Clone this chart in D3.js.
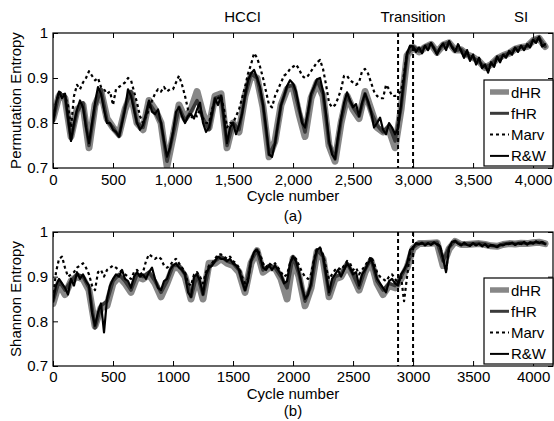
<!DOCTYPE html>
<html><head><meta charset="utf-8">
<script src="https://cdn.jsdelivr.net/npm/d3@7"></script>
<style>body{margin:0;background:#fff}svg text{font-family:"Liberation Sans",Arial,sans-serif;}</style>
</head><body>
<svg id="c" width="554" height="421"></svg>
<script>
// ---------- data ----------
const xTicks = [0,500,1000,1500,2000,2500,3000,3500,4000];
const yTicks = [0.7,0.8,0.9,1];
const seriesNames = ["dHR","fHR","Marv","R&W"];
const regimeLabels = ["HCCI","Transition","SI"];
const regimeCycles = [1580,3000,3900];
const boundaries = [2875,3000];

// Permutation entropy (a)
const peRW = [
0.80,0.845,0.87,0.855,0.865,0.81,0.76,0.80,0.83,0.85,
0.835,0.79,0.755,0.80,0.845,0.88,0.865,0.83,0.80,0.80,
0.785,0.78,0.77,0.80,0.83,0.875,0.86,0.83,0.80,0.785,
0.795,0.82,0.85,0.825,0.82,0.83,0.80,0.76,0.725,0.745,
0.78,0.825,0.835,0.815,0.80,0.815,0.82,0.81,0.83,0.845,
0.80,0.78,0.79,0.82,0.855,0.84,0.86,0.81,0.755,0.79,
0.80,0.775,0.795,0.82,0.86,0.895,0.91,0.918,0.90,0.88,
0.84,0.79,0.73,0.725,0.755,0.80,0.84,0.86,0.882,0.895,
0.888,0.87,0.835,0.80,0.79,0.825,0.865,0.88,0.897,0.90,
0.87,0.82,0.76,0.73,0.72,0.77,0.81,0.845,0.868,0.85,
0.835,0.842,0.815,0.845,0.865,0.848,0.825,0.79,0.80,0.812,
0.785,0.775,0.80,0.79,0.775,0.788,0.84,0.90,0.955,0.972,
0.97,0.958,0.968,0.955,0.972,0.962,0.978,0.965,0.952,0.968,
0.977,0.962,0.982,0.968,0.958,0.975,0.96,0.945,0.962,0.938,
0.952,0.93,0.945,0.922,0.93,0.912,0.935,0.925,0.948,0.935,
0.952,0.945,0.96,0.952,0.968,0.958,0.972,0.962,0.975,0.968,
0.985,0.978,0.992,0.97,0.975];
const peMarv = [
0.80,0.845,0.865,0.87,0.86,0.84,0.79,0.86,0.885,0.875,
0.89,0.90,0.915,0.905,0.895,0.90,0.88,0.875,0.865,0.87,
0.84,0.875,0.88,0.885,0.89,0.90,0.895,0.87,0.845,0.815,
0.80,0.815,0.83,0.85,0.865,0.875,0.87,0.88,0.87,0.875,
0.875,0.89,0.905,0.885,0.86,0.83,0.81,0.82,0.815,0.83,
0.81,0.80,0.80,0.83,0.85,0.855,0.86,0.83,0.79,0.80,
0.80,0.815,0.83,0.855,0.88,0.91,0.93,0.955,0.945,0.925,
0.90,0.87,0.84,0.835,0.86,0.875,0.89,0.905,0.91,0.92,
0.925,0.93,0.92,0.905,0.90,0.905,0.915,0.925,0.935,0.94,
0.92,0.885,0.845,0.835,0.84,0.855,0.875,0.905,0.905,0.895,
0.89,0.885,0.89,0.915,0.92,0.91,0.89,0.87,0.86,0.855,
0.855,0.885,0.875,0.86,0.86,0.865,0.87,0.91,0.955,0.97,
0.968,0.96,0.967,0.956,0.971,0.963,0.977,0.966,0.953,0.967,
0.976,0.963,0.981,0.969,0.959,0.974,0.961,0.946,0.961,0.939,
0.951,0.931,0.944,0.923,0.929,0.913,0.934,0.926,0.947,0.936,
0.951,0.946,0.959,0.953,0.967,0.959,0.971,0.963,0.974,0.969,
0.984,0.979,0.991,0.971,0.974];
const peDHR = [
0.81,0.86,0.855,0.77,0.83,0.84,0.745,0.84,0.87,0.81,
0.79,0.775,0.83,0.865,0.80,0.785,0.85,0.83,0.80,0.705,
0.77,0.84,0.81,0.83,0.87,0.82,0.79,0.86,0.865,0.745,
0.80,0.78,0.86,0.905,0.90,0.835,0.725,0.76,0.84,0.875,
0.88,0.82,0.77,0.855,0.89,0.86,0.75,0.715,0.80,0.86,
0.83,0.81,0.87,0.83,0.79,0.78,0.785,0.745,0.83,0.95,
0.968,0.958,0.968,0.975,0.957,0.973,0.978,0.962,0.963,0.952,
0.946,0.937,0.923,0.93,0.943,0.95,0.955,0.964,0.968,0.97,
0.983,0.988,0.97];
const peFHR = [
0.805,0.865,0.86,0.765,0.825,0.845,0.75,0.835,0.875,0.805,
0.79,0.77,0.835,0.87,0.80,0.79,0.845,0.825,0.80,0.715,
0.775,0.835,0.805,0.825,0.85,0.81,0.785,0.855,0.86,0.75,
0.80,0.785,0.86,0.91,0.90,0.84,0.73,0.755,0.84,0.88,
0.885,0.83,0.78,0.86,0.895,0.865,0.755,0.72,0.805,0.86,
0.835,0.815,0.865,0.825,0.795,0.78,0.795,0.76,0.835,0.952,
0.97,0.96,0.97,0.976,0.956,0.974,0.979,0.961,0.964,0.951,
0.945,0.936,0.924,0.93,0.944,0.95,0.955,0.965,0.969,0.97,
0.984,0.989,0.97];

// Shannon entropy (b)
const shRW = [
0.845,0.88,0.895,0.885,0.875,0.86,0.895,0.88,0.91,0.895,
0.905,0.89,0.88,0.82,0.79,0.82,0.84,0.775,0.85,0.88,
0.895,0.905,0.9,0.915,0.895,0.89,0.875,0.90,0.91,0.90,
0.905,0.895,0.91,0.92,0.895,0.875,0.87,0.89,0.895,0.915,
0.925,0.93,0.92,0.915,0.905,0.865,0.855,0.90,0.905,0.89,
0.86,0.905,0.92,0.925,0.935,0.945,0.94,0.94,0.935,0.94,
0.93,0.925,0.915,0.89,0.87,0.89,0.935,0.955,0.96,0.945,
0.92,0.915,0.925,0.915,0.925,0.915,0.905,0.885,0.89,0.93,
0.945,0.935,0.91,0.875,0.85,0.86,0.885,0.935,0.96,0.965,
0.945,0.905,0.865,0.895,0.905,0.915,0.9,0.915,0.93,0.92,
0.905,0.91,0.88,0.905,0.915,0.93,0.94,0.92,0.895,0.885,
0.875,0.865,0.89,0.895,0.885,0.88,0.905,0.915,0.93,0.96,
0.965,0.975,0.972,0.976,0.97,0.975,0.971,0.977,0.972,0.968,
0.94,0.91,0.965,0.978,0.98,0.974,0.97,0.976,0.971,0.969,
0.975,0.97,0.974,0.968,0.973,0.966,0.971,0.969,0.966,0.972,
0.97,0.974,0.973,0.976,0.971,0.975,0.973,0.978,0.972,0.977,
0.974,0.979,0.975,0.978,0.973];
const shMarv = [
0.85,0.91,0.94,0.945,0.92,0.90,0.905,0.91,0.92,0.925,
0.93,0.92,0.905,0.88,0.87,0.91,0.915,0.90,0.915,0.92,
0.925,0.92,0.915,0.91,0.905,0.90,0.895,0.91,0.915,0.905,
0.91,0.935,0.95,0.945,0.94,0.945,0.94,0.925,0.92,0.925,
0.935,0.94,0.93,0.92,0.91,0.885,0.88,0.905,0.91,0.90,
0.885,0.91,0.925,0.93,0.94,0.95,0.95,0.945,0.94,0.945,
0.935,0.93,0.92,0.90,0.885,0.895,0.935,0.955,0.962,0.95,
0.93,0.92,0.93,0.925,0.93,0.92,0.91,0.90,0.905,0.93,
0.945,0.94,0.925,0.91,0.90,0.895,0.905,0.94,0.962,0.965,
0.95,0.92,0.895,0.905,0.915,0.92,0.915,0.925,0.935,0.93,
0.915,0.92,0.905,0.915,0.925,0.935,0.945,0.93,0.91,0.90,
0.895,0.89,0.90,0.905,0.895,0.885,0.90,0.845,0.90,0.955,
0.964,0.974,0.973,0.975,0.971,0.974,0.972,0.976,0.973,0.969,
0.942,0.913,0.964,0.977,0.979,0.975,0.971,0.975,0.972,0.97,
0.974,0.971,0.973,0.969,0.972,0.967,0.97,0.97,0.967,0.971,
0.971,0.973,0.974,0.975,0.972,0.974,0.974,0.977,0.973,0.976,
0.975,0.978,0.976,0.977,0.974];
const shDHR = [
0.84,0.885,0.86,0.89,0.90,0.895,0.87,0.79,0.83,0.835,
0.885,0.90,0.885,0.865,0.90,0.895,0.905,0.885,0.855,0.885,
0.92,0.92,0.90,0.85,0.90,0.85,0.93,0.93,0.94,0.93,
0.925,0.91,0.865,0.93,0.958,0.91,0.92,0.92,0.895,0.85,
0.94,0.90,0.835,0.875,0.955,0.94,0.855,0.895,0.90,0.925,
0.90,0.87,0.91,0.935,0.885,0.86,0.88,0.875,0.895,0.92,
0.963,0.974,0.974,0.975,0.976,0.925,0.962,0.979,0.972,0.972,
0.973,0.974,0.972,0.969,0.968,0.972,0.974,0.973,0.975,0.974,
0.976,0.977,0.974];
const shFHR = [
0.845,0.89,0.87,0.89,0.905,0.90,0.875,0.785,0.835,0.845,
0.89,0.905,0.89,0.87,0.905,0.90,0.91,0.89,0.865,0.89,
0.925,0.925,0.905,0.855,0.905,0.86,0.92,0.935,0.945,0.935,
0.93,0.915,0.87,0.935,0.96,0.915,0.925,0.92,0.90,0.875,
0.945,0.905,0.845,0.88,0.96,0.945,0.86,0.90,0.905,0.93,
0.905,0.875,0.915,0.94,0.89,0.87,0.885,0.88,0.90,0.925,
0.965,0.975,0.975,0.976,0.977,0.935,0.965,0.98,0.972,0.973,
0.974,0.975,0.973,0.97,0.968,0.973,0.975,0.974,0.976,0.974,
0.976,0.977,0.974];

const cyc25 = d3.range(0, 4101, 25);
const cyc50 = d3.range(0, 4101, 50);

// ---------- drawing ----------
const svg = d3.select("#c");
const FONT = 15;
const styles = {
  "dHR":  {color:"#878787", width:7, lw:5.5, dash:null},
  "fHR":  {color:"#3a3a3a", width:3.5, lw:3, dash:null},
  "Marv": {color:"#000", width:2.2, lw:2, dash:"3,3"},
  "R&W":  {color:"#000", width:2.2, lw:2, dash:null}
};

function panel(cfg){
  const L=53, R=553, T=cfg.top, B=cfg.bottom;
  const x = d3.scaleLinear().domain([0,4166]).range([L,R]);
  const y = d3.scaleLinear().domain([0.7,1]).range([B,T]);
  const g = svg.append("g");
  const clipId = "clip"+cfg.id;
  svg.append("clipPath").attr("id",clipId).append("rect")
    .attr("x",L).attr("y",T).attr("width",R-L).attr("height",B-T);
  const plot = g.append("g").attr("clip-path",`url(#${clipId})`);

  const line = d3.line().x(d=>x(d[0])).y(d=>y(d[1])).curve(d3.curveLinear);
  const data = {
    "dHR": d3.zip(cyc50, cfg.dHR),
    "fHR": d3.zip(cyc50, cfg.fHR),
    "Marv": d3.zip(cyc25, cfg.marv),
    "R&W": d3.zip(cyc25, cfg.rw)
  };
  seriesNames.forEach(n=>{
    const s = styles[n];
    plot.append("path").datum(data[n]).attr("d",line)
      .attr("fill","none").attr("stroke",s.color).attr("stroke-width",s.width)
      .attr("stroke-linejoin","round").attr("stroke-linecap", s.dash?"butt":"round")
      .attr("stroke-dasharray",s.dash);
  });
  boundaries.forEach(b=>{
    g.append("line").attr("x1",x(b)).attr("x2",x(b)).attr("y1",T).attr("y2",B)
      .attr("stroke","#000").attr("stroke-width",2).attr("stroke-dasharray","4,3");
  });
  const fmt = cfg.comma ? d3.format(",") : d3.format("d");
  g.append("g").attr("transform",`translate(0,${B})`)
    .call(d3.axisBottom(x).tickValues(xTicks).tickFormat(fmt).tickSizeInner(-5).tickSizeOuter(0).tickPadding(cfg.xpad));
  g.append("g").attr("transform",`translate(0,${T})`)
    .call(d3.axisTop(x).tickValues(xTicks).tickFormat("").tickSizeInner(-5).tickSizeOuter(0));
  g.append("g").attr("transform",`translate(${L},0)`)
    .call(d3.axisLeft(y).tickValues(yTicks).tickFormat(v=>v===1?"1":d3.format(".1f")(v)).tickSizeInner(-5).tickSizeOuter(0).tickPadding(5));
  g.append("g").attr("transform",`translate(${R},0)`)
    .call(d3.axisRight(y).tickValues(yTicks).tickFormat("").tickSizeInner(-5).tickSizeOuter(0));
  g.selectAll(".domain").remove();
  g.selectAll(".tick line").attr("stroke","#000");
  g.selectAll(".tick text").attr("font-size",FONT).attr("fill","#000")
    .style("font-family",'"Liberation Sans",Arial,sans-serif');
  g.append("rect").attr("x",L).attr("y",T).attr("width",R-L).attr("height",B-T)
    .attr("fill","none").attr("stroke","#000").attr("stroke-width",1.2);

  g.append("text").attr("x",293).attr("y",cfg.xlabY).attr("text-anchor","middle")
    .attr("font-size",FONT).text("Cycle number");
  g.append("text").attr("x",293).attr("y",cfg.subY).attr("text-anchor","middle")
    .attr("font-size",FONT).text(cfg.sub);
  g.append("text").attr("transform",`translate(21,${(T+B)/2}) rotate(-90)`)
    .attr("text-anchor","middle").attr("font-size",FONT).text(cfg.ylab);

  const lx=484, ly=cfg.legTop, lw=69, lh=86;
  g.append("rect").attr("x",lx).attr("y",ly).attr("width",lw).attr("height",lh)
    .attr("fill","#fff").attr("stroke","#000").attr("stroke-width",1.2);
  seriesNames.forEach((n,i)=>{
    const s=styles[n];
    const cy = ly + 12 + i*21.3;
    g.append("line").attr("x1",490).attr("x2",509).attr("y1",cy).attr("y2",cy)
      .attr("stroke",s.color).attr("stroke-width",s.lw).attr("stroke-dasharray",s.dash);
    g.append("text").attr("x",511).attr("y",cy+5.5).attr("font-size",FONT).text(n);
  });
}

panel({id:"a", top:33, bottom:168, rw:peRW, marv:peMarv, dHR:peDHR, fHR:peFHR,
  comma:true, xpad:6, xlabY:201, subY:221, sub:"(a)", ylab:"Permutation Entropy", legTop:80});
panel({id:"b", top:232, bottom:366, rw:shRW, marv:shMarv, dHR:shDHR, fHR:shFHR,
  comma:false, xpad:5, xlabY:399, subY:416, sub:"(b)", ylab:"Shannon Entropy", legTop:278});

const xr = d3.scaleLinear().domain([0,4166]).range([53,553]);
regimeLabels.forEach((t,i)=>{
  svg.append("text").attr("x",xr(regimeCycles[i])).attr("y",22).attr("text-anchor","middle")
    .attr("font-size",FONT).text(t);
});
</script>
</body></html>
